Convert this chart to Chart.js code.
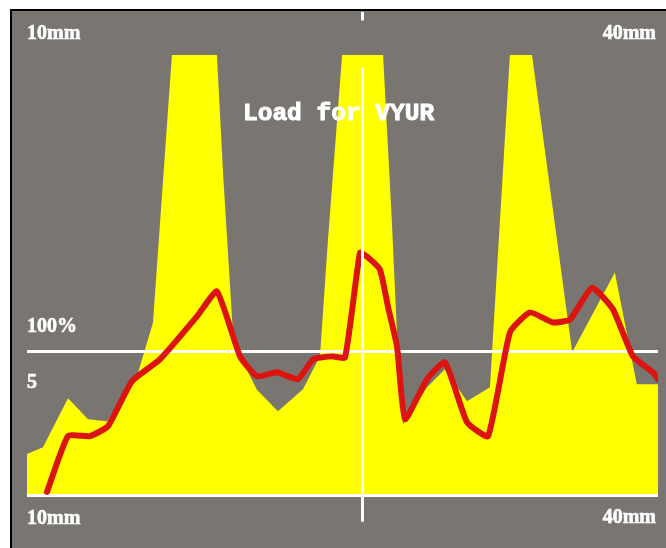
<!DOCTYPE html>
<html>
<head>
<meta charset="utf-8">
<script src="https://cdn.jsdelivr.net/npm/chart.js@4"></script>
<style>
html,body{margin:0;padding:0;background:#fff;}
canvas{display:block;}
</style>
</head>
<body>
<canvas id="c" width="666" height="548"></canvas>
<script>
// ---- data (x in mm, y in % load) ----
const areaMm   = [10.0, 10.76, 11.95, 12.90, 13.80, 15.23, 15.99, 16.89, 19.03, 19.32, 19.79, 20.13, 20.93, 21.93, 23.12, 23.93, 24.31, 24.98, 26.93, 27.35, 27.60, 27.88, 29.02, 29.87, 30.92, 32.01, 32.96, 34.01, 35.92, 37.95, 38.99, 40.0];
const areaLoad = [29.2, 34.0, 68.1, 53.5, 52.1, 83.3, 120.8, 307, 307, 225, 113.9, 97.2, 74, 59.0, 74.3, 97.2, 178.5, 307, 307, 190, 110, 50, 75.7, 88.2, 66.0, 75.7, 307, 307, 100, 155.6, 77.8, 77.8];
const lineMm   = [10.95, 11.95, 13.00, 13.85, 14.99, 16.32, 18.08, 19.03, 20.13, 20.93, 21.89, 22.88, 23.60, 24.50, 25.12, 25.83, 26.16, 26.78, 27.16, 27.59, 27.97, 29.02, 29.87, 30.92, 31.92, 32.96, 33.91, 35.01, 35.82, 36.86, 37.86, 38.81, 39.76, 40.0];
const lineLoad = [2.8, 41.7, 41.7, 48.6, 79.9, 95.1, 125.0, 142.4, 97.2, 83.3, 86.1, 81.3, 95.1, 97.2, 96.5, 169.4, 166.7, 157.6, 131.9, 104.2, 53.5, 81.3, 93.1, 51.4, 41.7, 113.9, 127.8, 120.8, 122.9, 145.1, 129.9, 97.2, 86.1, 81.3];
const guideLevels = [0, 100];
const cursorMm = 25.93;
const xRange = [10, 40];
const yRange = [0, 307];
const titleText = 'Load for VYUR';
const cornerLabels = ['10mm', '40mm'];
const levelLabels = ['100%', '5'];

const toPts = (xs, ys) => xs.map((x, i) => ({x: x, y: ys[i]}));

const GRAY = 'rgb(121,118,114)';

const overlay = {
  id: 'overlay',
  beforeDraw(chart) {
    const ctx = chart.ctx;
    ctx.save();
    ctx.fillStyle = '#ffffff';
    ctx.fillRect(0, 0, chart.width, chart.height);
    ctx.fillStyle = GRAY;
    ctx.fillRect(11, 10, chart.width - 11, chart.height - 10);
    ctx.fillStyle = '#000000';
    ctx.fillRect(10, 9, chart.width - 10, 2);
    ctx.fillRect(10, 9, 2, chart.height - 9);
    ctx.restore();
  },
  afterDatasetDraw(chart, args) {
    if (args.index !== 0) return;
    const ctx = chart.ctx, ys = chart.scales.y, a = chart.chartArea;
    ctx.save();
    ctx.strokeStyle = '#ffffff';
    ctx.lineWidth = 3;
    guideLevels.forEach(v => {
      const py = Math.round(ys.getPixelForValue(v)) - 0.5;
      ctx.beginPath();
      ctx.moveTo(a.left, py);
      ctx.lineTo(a.right, py);
      ctx.stroke();
    });
    ctx.restore();
  },
  afterDraw(chart) {
    const ctx = chart.ctx, xs = chart.scales.x, ys = chart.scales.y;
    ctx.save();
    // cursor line
    const px = Math.round(xs.getPixelForValue(cursorMm)) + 0.5;
    ctx.strokeStyle = '#ffffff';
    ctx.lineWidth = 3;
    ctx.beginPath();
    ctx.moveTo(px, ys.getPixelForValue(298));
    ctx.lineTo(px, ys.getPixelForValue(-18));
    ctx.stroke();
    ctx.beginPath();
    ctx.moveTo(px, ys.getPixelForValue(337));
    ctx.lineTo(px, ys.getPixelForValue(331));
    ctx.stroke();
    // texts
    ctx.fillStyle = '#ffffff';
    ctx.strokeStyle = '#ffffff';
    ctx.lineWidth = 0.6;
    ctx.textBaseline = 'alphabetic';
    ctx.font = 'bold 20px "Liberation Serif"';
    const put = (t, x, y) => { ctx.fillText(t, x, y); ctx.strokeText(t, x, y); };
    ctx.textAlign = 'left';
    put(cornerLabels[0], 27, 39);
    put(cornerLabels[0], 27, 524);
    put(levelLabels[0], 27, 332);
    put(levelLabels[1], 27, 388);
    ctx.textAlign = 'right';
    put(cornerLabels[1], 656, 39);
    put(cornerLabels[1], 656, 523);
    ctx.textAlign = 'left';
    ctx.lineWidth = 1;
    ctx.font = 'bold 24.5px "Liberation Mono"';
    put(titleText, 243, 120);
    ctx.restore();
  }
};

new Chart(document.getElementById('c'), {
  type: 'line',
  data: {
    datasets: [
      {
        data: toPts(areaMm, areaLoad),
        fill: 'origin',
        backgroundColor: '#ffff00',
        borderColor: '#ffff00',
        borderWidth: 0,
        pointRadius: 0,
        tension: 0,
        order: 2
      },
      {
        data: toPts(lineMm, lineLoad),
        fill: false,
        borderColor: '#dc140f',
        borderWidth: 6,
        pointRadius: 0,
        tension: 0.15,
        borderJoinStyle: 'round',
        borderCapStyle: 'round',
        order: 1
      }
    ]
  },
  options: {
    responsive: false,
    animation: false,
    devicePixelRatio: 1,
    layout: { padding: { left: 27, right: 8, top: 55, bottom: 52 } },
    plugins: { legend: { display: false }, tooltip: { enabled: false }, title: { display: false } },
    scales: {
      x: { type: 'linear', min: xRange[0], max: xRange[1], display: false },
      y: { type: 'linear', min: yRange[0], max: yRange[1], display: false }
    }
  },
  plugins: [overlay]
});
</script>
</body>
</html>
